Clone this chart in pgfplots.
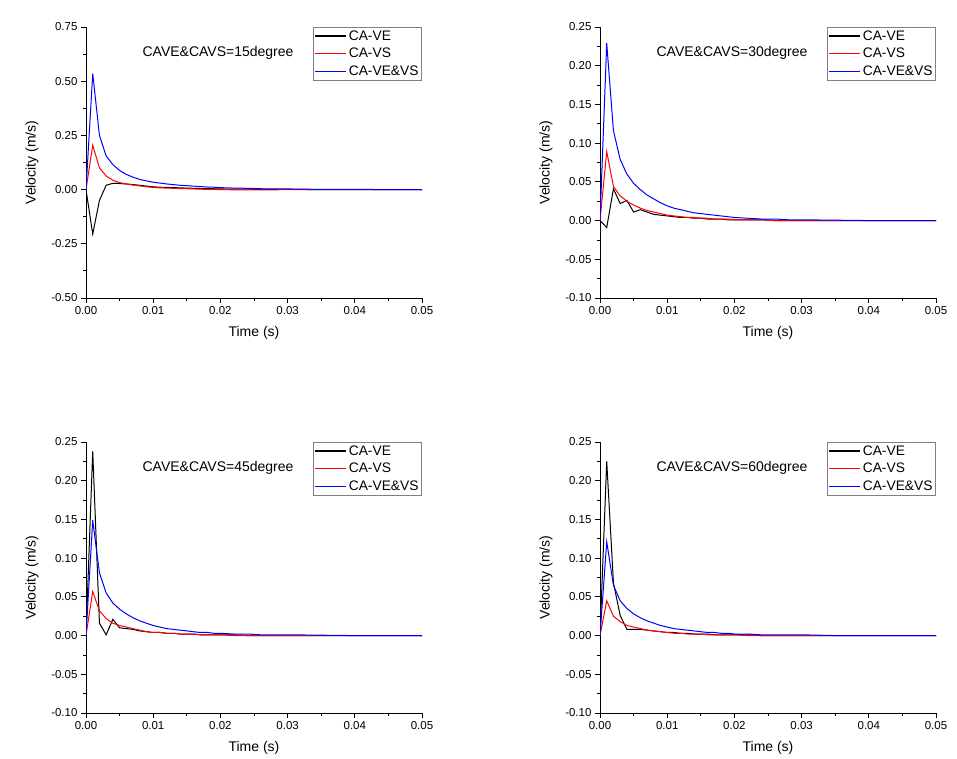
\documentclass[border=0pt]{standalone}
\usepackage{pgfplots}
\usepackage{pgfplotstable}
\pgfplotsset{compat=1.18}
\usepackage{fontspec}
\setmainfont{Liberation Sans}

\pgfplotstableread{
t ve vs vevs
0 0 0 0
0.001 -0.205 0.205 0.535
0.002 -0.050 0.100 0.250
0.003 0.020 0.063 0.155
0.004 0.029 0.043 0.115
0.005 0.028 0.032 0.088
0.006 0.026 0.026 0.070
0.007 0.023 0.021 0.057
0.008 0.020 0.017 0.047
0.009 0.016 0.013 0.040
0.010 0.013 0.010 0.034
0.011 0.011 0.008 0.030
0.012 0.010 0.007 0.026
0.013 0.009 0.006 0.023
0.014 0.008 0.005 0.020
0.015 0.007 0.004 0.018
0.016 0.006 0.003 0.016
0.017 0.005 0.002 0.014
0.018 0.004 0.001 0.012
0.019 0.004 0.001 0.011
0.020 0.003 0.000 0.009
0.022 0.002 -0.001 0.007
0.024 0.002 -0.001 0.006
0.026 0.001 -0.001 0.004
0.028 0.001 -0.001 0.003
0.030 0.001 0.000 0.003
0.035 0.000 0.000 0.001
0.040 0.000 0.000 0.001
0.045 0 0 0
0.050 0 0 0
}\dataA

\pgfplotstableread{
t ve vs vevs
0 0 0 0
0.001 -0.009 0.089 0.229
0.002 0.041 0.044 0.116
0.003 0.022 0.032 0.079
0.004 0.026 0.025 0.060
0.005 0.011 0.020 0.048
0.006 0.014 0.016 0.040
0.007 0.011 0.013 0.033
0.008 0.008 0.011 0.028
0.009 0.007 0.009 0.023
0.010 0.006 0.007 0.019
0.011 0.005 0.006 0.016
0.012 0.004 0.005 0.014
0.013 0.004 0.004 0.012
0.014 0.003 0.004 0.010
0.015 0.003 0.003 0.009
0.016 0.002 0.003 0.008
0.017 0.002 0.002 0.007
0.018 0.002 0.002 0.006
0.019 0.001 0.002 0.005
0.020 0.001 0.001 0.004
0.022 0.001 0.001 0.003
0.024 0.001 0.001 0.002
0.026 0.000 0.000 0.002
0.028 0 0 0.001
0.030 0 0 0.001
0.035 0 0 0.0005
0.040 0 0 0
0.050 0 0 0
}\dataB

\pgfplotstableread{
t ve vs vevs
0 0 0 0
0.001 0.238 0.057 0.149
0.002 0.016 0.032 0.081
0.003 0.001 0.022 0.055
0.004 0.021 0.016 0.042
0.005 0.010 0.013 0.034
0.006 0.009 0.011 0.028
0.007 0.008 0.009 0.023
0.008 0.006 0.007 0.019
0.009 0.005 0.005 0.016
0.010 0.004 0.004 0.013
0.011 0.004 0.004 0.011
0.012 0.003 0.003 0.009
0.013 0.003 0.003 0.008
0.014 0.002 0.002 0.007
0.015 0.002 0.002 0.006
0.016 0.002 0.002 0.005
0.017 0.001 0.001 0.004
0.018 0.001 0.001 0.004
0.019 0.001 0.001 0.003
0.020 0.001 0.001 0.003
0.022 0.001 0.000 0.002
0.024 0 0 0.002
0.026 0 0 0.001
0.030 0 0 0.001
0.035 0 0 0.0005
0.040 0 0 0
0.050 0 0 0
}\dataC

\pgfplotstableread{
t ve vs vevs
0 0 0 0
0.001 0.225 0.045 0.121
0.002 0.068 0.025 0.065
0.003 0.026 0.018 0.045
0.004 0.008 0.013 0.035
0.005 0.008 0.011 0.028
0.006 0.008 0.009 0.023
0.007 0.007 0.007 0.019
0.008 0.006 0.006 0.016
0.009 0.005 0.005 0.013
0.010 0.004 0.004 0.011
0.011 0.004 0.003 0.009
0.012 0.003 0.003 0.008
0.013 0.003 0.002 0.007
0.014 0.002 0.002 0.006
0.015 0.002 0.002 0.005
0.016 0.002 0.001 0.004
0.017 0.001 0.001 0.004
0.018 0.001 0.001 0.003
0.019 0.001 0.001 0.003
0.020 0.001 0.001 0.002
0.022 0.001 0.000 0.002
0.024 0 0 0.001
0.026 0 0 0.001
0.030 0 0 0.001
0.035 0 0 0
0.040 0 0 0
0.050 0 0 0
}\dataD

\pgfplotsset{
  panel/.style={
    scale only axis, width=336pt, height=271pt,
    anchor=south west,
    axis x line*=bottom, axis y line*=left,
    axis line style={line width=0.9pt, -},
    tick align=outside,
    major tick length=5pt, minor tick length=3pt,
    every tick/.style={line width=0.8pt, black},
    xmin=0, xmax=0.05, xtick={0,0.01,0.02,0.03,0.04,0.05}, minor x tick num=1,
    minor y tick num=1,
    scaled ticks=false,
    /pgf/number format/assume math mode=true,
    xticklabel style={/pgf/number format/fixed, /pgf/number format/fixed zerofill, /pgf/number format/precision=2},
    yticklabel style={/pgf/number format/fixed, /pgf/number format/fixed zerofill, /pgf/number format/precision=2},
    ticklabel style={font=\fontsize{11.5}{13}\selectfont},
    xlabel={Time (s)}, ylabel={Velocity (m/s)},
    label style={font=\fontsize{14}{16}\selectfont},
    xlabel style={at={(axis description cs:0.5,-0.129)}, anchor=center},
    ylabel style={at={(axis description cs:-0.161,0.5)}, anchor=center},
    legend style={at={(1,1)}, anchor=north east, draw=gray, line width=0.8pt,
      font=\fontsize{13.8}{16}\selectfont, inner sep=1pt, row sep=2.7pt},
    legend cell align=left,
    legend image code/.code={\draw[#1,line width=1.1pt] (0pt,0pt) -- (31pt,0pt);},
    every axis plot/.append style={line width=1pt, no markers, sharp plot},
  }
}

\begin{document}
\begin{tikzpicture}
\useasboundingbox (0pt,0pt) rectangle (957pt,758pt);

\begin{axis}[panel, at={(86pt,460pt)}, ymin=-0.5, ymax=0.75, ytick={-0.5,-0.25,0,0.25,0.5,0.75}]
\addplot[draw=black] table[x=t,y=ve] {\dataA};
\addplot[draw=red] table[x=t,y=vs] {\dataA};
\addplot[draw=blue] table[x=t,y=vevs] {\dataA};
\legend{CA-VE,CA-VS,CA-VE\&VS}
\node[font=\fontsize{14}{16}\selectfont] at (rel axis cs:0.393,0.903) {CAVE\&CAVS=15degree};
\end{axis}

\begin{axis}[panel, at={(600pt,460pt)}, ymin=-0.1, ymax=0.25, ytick={-0.1,-0.05,0,0.05,0.1,0.15,0.2,0.25}]
\addplot[draw=black] table[x=t,y=ve] {\dataB};
\addplot[draw=red] table[x=t,y=vs] {\dataB};
\addplot[draw=blue] table[x=t,y=vevs] {\dataB};
\legend{CA-VE,CA-VS,CA-VE\&VS}
\node[font=\fontsize{14}{16}\selectfont] at (rel axis cs:0.393,0.903) {CAVE\&CAVS=30degree};
\end{axis}

\begin{axis}[panel, at={(86pt,45pt)}, ymin=-0.1, ymax=0.25, ytick={-0.1,-0.05,0,0.05,0.1,0.15,0.2,0.25}]
\addplot[draw=black] table[x=t,y=ve] {\dataC};
\addplot[draw=red] table[x=t,y=vs] {\dataC};
\addplot[draw=blue] table[x=t,y=vevs] {\dataC};
\legend{CA-VE,CA-VS,CA-VE\&VS}
\node[font=\fontsize{14}{16}\selectfont] at (rel axis cs:0.393,0.903) {CAVE\&CAVS=45degree};
\end{axis}

\begin{axis}[panel, at={(600pt,45pt)}, ymin=-0.1, ymax=0.25, ytick={-0.1,-0.05,0,0.05,0.1,0.15,0.2,0.25}]
\addplot[draw=black] table[x=t,y=ve] {\dataD};
\addplot[draw=red] table[x=t,y=vs] {\dataD};
\addplot[draw=blue] table[x=t,y=vevs] {\dataD};
\legend{CA-VE,CA-VS,CA-VE\&VS}
\node[font=\fontsize{14}{16}\selectfont] at (rel axis cs:0.393,0.903) {CAVE\&CAVS=60degree};
\end{axis}
\end{tikzpicture}
\end{document}
